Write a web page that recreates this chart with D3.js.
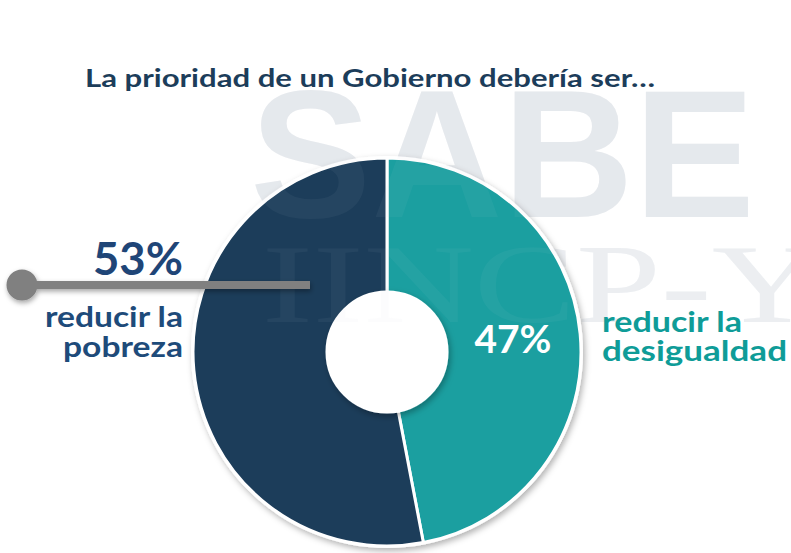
<!DOCTYPE html>
<html><head><meta charset="utf-8">
<script src="https://cdn.jsdelivr.net/npm/d3@7"></script>
<style>body{margin:0;background:#fff;}svg{display:block;}</style>
</head><body>
<script>
const categories = ["reducir la desigualdad", "reducir la pobreza"];
const values = [47, 53];
const valueLabels = ["47%", "53%"];
const titleText = "La prioridad de un Gobierno debería ser…";
const labelLinesLeft = ["reducir la", "pobreza"];
const labelLinesRight = ["reducir la", "desigualdad"];
const colors = ["#1b9fa0", "#1c3d5a"];

const W = 791, H = 553;
const svg = d3.select("body").append("svg").attr("width", W).attr("height", H);
const defs = svg.append("defs");
const sh = defs.append("filter").attr("id","sh").attr("x","-20%").attr("y","-20%").attr("width","140%").attr("height","140%");
sh.append("feDropShadow").attr("dx",2).attr("dy",3).attr("stdDeviation",3).attr("flood-color","#000").attr("flood-opacity",0.3);
const sh2 = defs.append("filter").attr("id","sh2").attr("filterUnits","userSpaceOnUse").attr("x",0).attr("y",0).attr("width",W).attr("height",H);
sh2.append("feDropShadow").attr("dx",1).attr("dy",2.5).attr("stdDeviation",2.5).attr("flood-color","#000").attr("flood-opacity",0.35);

function fit(sel, w){ sel.attr("textLength", w).attr("lengthAdjust","spacingAndGlyphs"); return sel; }

// watermark (background)
const wm = svg.append("g");
fit(wm.append("text").attr("x",250).attr("y",217).attr("font-family","Liberation Sans, Arial").attr("font-weight",700)
  .attr("font-size",182).attr("fill","#e7eaee").text("SABE"), 505);
fit(wm.append("text").attr("x",262).attr("y",322).attr("font-family","Liberation Serif, Times New Roman").attr("font-weight",400)
  .attr("font-size",112).attr("fill","#eef0f3").text("IINCP-Y"), 560);

// title
fit(svg.append("text").attr("x",85).attr("y",87).attr("font-family","Lato, sans-serif").attr("font-weight",700)
  .attr("font-size",25).attr("fill","#1c3d5a").text(titleText), 570);

// donut
const cx = 387, cy = 352, R = 194, r0 = 59;
const pie = d3.pie().sort(null).startAngle(0).endAngle(2*Math.PI)(values);
const arc = d3.arc().innerRadius(r0).outerRadius(R);
const g = svg.append("g").attr("transform",`translate(${cx},${cy})`);
g.append("circle").attr("r",R+2).attr("fill","#fff").attr("filter","url(#sh)");
g.selectAll("path.s").data(pie).join("path").attr("class","s")
  .attr("d",arc).attr("fill",(d,i)=>colors[i]).attr("stroke","#fff").attr("stroke-width",3);
g.append("circle").attr("r",r0+1).attr("fill","#fff").attr("stroke","#fff").attr("stroke-width",3).attr("filter","url(#sh)");

// watermark overlay on top of donut (faint)
const wm2 = svg.append("g").attr("opacity",0.05);
fit(wm2.append("text").attr("x",250).attr("y",217).attr("font-family","Liberation Sans, Arial").attr("font-weight",700)
  .attr("font-size",182).attr("fill","#d0d8e0").text("SABE"), 505);
fit(wm2.append("text").attr("x",262).attr("y",322).attr("font-family","Liberation Serif, Times New Roman")
  .attr("font-size",112).attr("fill","#d0d8e0").text("IINCP-Y"), 560);

// inner label 47%
const c47 = arc.centroid(pie[0]);
fit(g.append("text").attr("x",c47[0]).attr("y",1).attr("text-anchor","middle").attr("font-family","Lato, sans-serif")
  .attr("font-weight",700).attr("font-size",38).attr("fill","#fff").text(valueLabels[0]), 77);

// left callout
const lg = svg.append("g").attr("filter","url(#sh2)");
lg.append("rect").attr("x",22).attr("y",281).attr("width",288).attr("height",8).attr("fill","#808080");
lg.append("circle").attr("cx",22).attr("cy",285).attr("r",15.5).attr("fill","#808080");
fit(svg.append("text").attr("x",183).attr("y",275).attr("text-anchor","end").attr("font-family","Lato, sans-serif")
  .attr("font-weight",700).attr("font-size",46).attr("fill","#1f4577").text(valueLabels[1]), 90);
fit(svg.append("text").attr("x",183).attr("y",327).attr("text-anchor","end").attr("font-family","Lato, sans-serif")
  .attr("font-weight",700).attr("font-size",28).attr("fill","#1e4b7a").text(labelLinesLeft[0]), 138);
fit(svg.append("text").attr("x",183).attr("y",357).attr("text-anchor","end").attr("font-family","Lato, sans-serif")
  .attr("font-weight",700).attr("font-size",28).attr("fill","#1e4b7a").text(labelLinesLeft[1]), 120);

// right labels
fit(svg.append("text").attr("x",602).attr("y",332).attr("font-family","Lato, sans-serif")
  .attr("font-weight",700).attr("font-size",28).attr("fill","#0f9c98").text(labelLinesRight[0]), 140);
fit(svg.append("text").attr("x",602).attr("y",361).attr("font-family","Lato, sans-serif")
  .attr("font-weight",700).attr("font-size",28).attr("fill","#0f9c98").text(labelLinesRight[1]), 185);
</script>
</body></html>
